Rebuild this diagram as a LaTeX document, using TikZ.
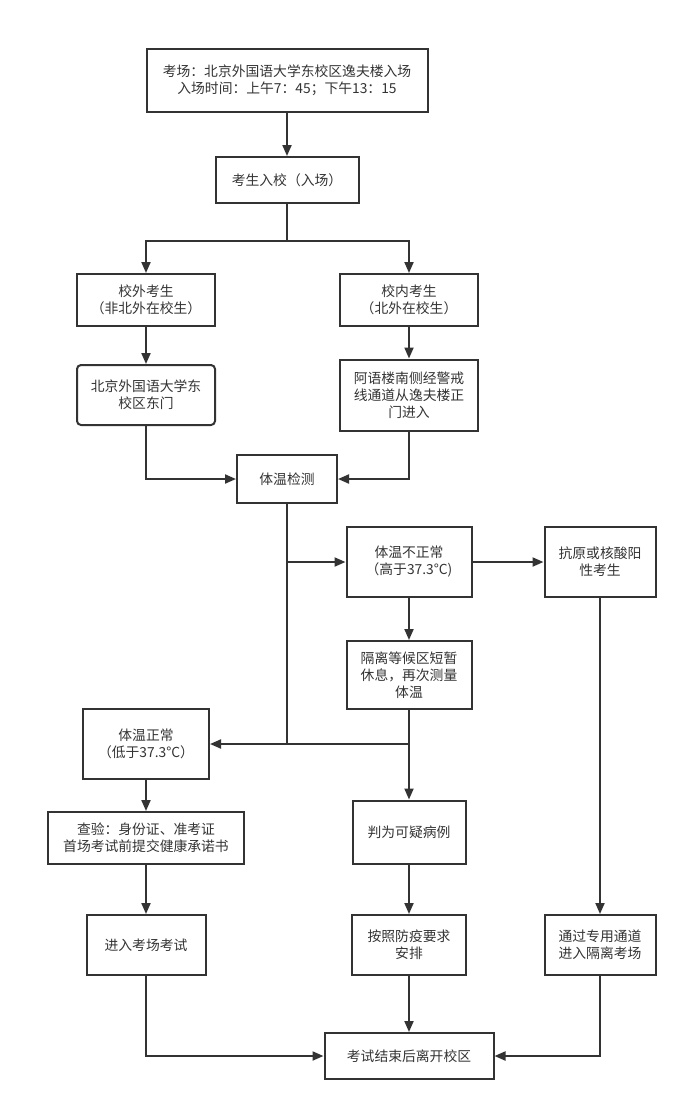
\documentclass[tikz,border=0pt]{standalone}
\usepackage{fontspec}
\newfontfamily\cjk{Noto Sans CJK SC}
\usetikzlibrary{arrows.meta}
\definecolor{ink}{HTML}{333333}
\tikzset{
  box/.style={draw=ink, line width=2pt, text=ink, inner sep=0pt, align=center,
    font=\fontsize{13.8}{17}\selectfont\cjk},
  flow/.style={draw=ink, line width=2pt, -{Triangle[length=11pt,width=9pt]}},
  line/.style={draw=ink, line width=2pt}
}
\begin{document}
\begin{tikzpicture}[x=1pt, y=-1pt]
        \useasboundingbox (0,0) rectangle (688,1112);
        \node [box, minimum width=281, minimum height=63] (venue) at (287,80) {考场：北京外国语大学东校区逸夫楼入场\\入场时间：上午7：45；下午13：15};
        \node [box, minimum width=143, minimum height=46] (entry) at (287,180) {考生入校（入场）};
        \node [box, minimum width=138, minimum height=52] (outer) at (146,300) {校外考生\\（非北外在校生）};
        \node [box, minimum width=138, minimum height=52] (inner) at (409,300) {校内考生\\（北外在校生）};
        \node [box, rounded corners=4pt, minimum width=138, minimum height=60] (gate) at (146,395) {北京外国语大学东\\校区东门};
        \node [box, minimum width=138, minimum height=71] (alley) at (409,395) {阿语楼南侧经警戒\\线通道从逸夫楼正\\门进入};
        \node [box, minimum width=100, minimum height=48] (check) at (287,479) {体温检测};
        \node [box, minimum width=125, minimum height=70] (high) at (409,562) {体温不正常\\（高于37.3°C)};
        \node [box, minimum width=111, minimum height=70] (positive) at (600,562) {抗原或核酸阳\\性考生};
        \node [box, minimum width=125, minimum height=68] (rest) at (409,675) {隔离等候区短暂\\休息，再次测量\\体温};
        \node [box, minimum width=126, minimum height=70] (normal) at (146,744) {体温正常\\（低于37.3°C）};
        \node [box, minimum width=196, minimum height=52] (papers) at (146,838) {查验：身份证、准考证\\首场考试前提交健康承诺书};
        \node [box, minimum width=113, minimum height=63] (suspect) at (409,832) {判为可疑病例};
        \node [box, minimum width=119, minimum height=60] (exam) at (146,945) {进入考场考试};
        \node [box, minimum width=114, minimum height=60] (arrange) at (409,945) {按照防疫要求\\安排};
        \node [box, minimum width=111, minimum height=60] (channel) at (600,945) {通过专用通道\\进入隔离考场};
        \node [box, minimum width=169, minimum height=46] (leave) at (409,1056) {考试结束后离开校区};

        \draw [flow] (venue) -- (entry);
        \draw [line] (entry.south) -- ++(0,37) coordinate (split);
        \draw [flow] (split) -| (outer.north);
        \draw [flow] (split) -| (inner.north);
        \draw [flow] (outer) -- (gate);
        \draw [flow] (inner) -- (alley);
        \draw [flow] (gate.south) |- (check.west);
        \draw [flow] (alley.south) |- (check.east);
        \draw [line] (check.south) -- (check.south |- normal.east);
        \draw [flow] (check.south |- high.west) -- (high.west);
        \draw [flow] (high) -- (positive);
        \draw [flow] (high) -- (rest);
        \draw [flow] (rest) -- (suspect);
        \draw [flow] (rest.south |- normal.east) -- (normal.east);
        \draw [flow] (normal) -- (papers);
        \draw [flow] (papers) -- (exam);
        \draw [flow] (suspect) -- (arrange);
        \draw [flow] (positive) -- (channel);
        \draw [flow] (exam.south) |- (leave.west);
        \draw [flow] (arrange) -- (leave);
        \draw [flow] (channel.south) |- (leave.east);
      \end{tikzpicture}
\end{document}
